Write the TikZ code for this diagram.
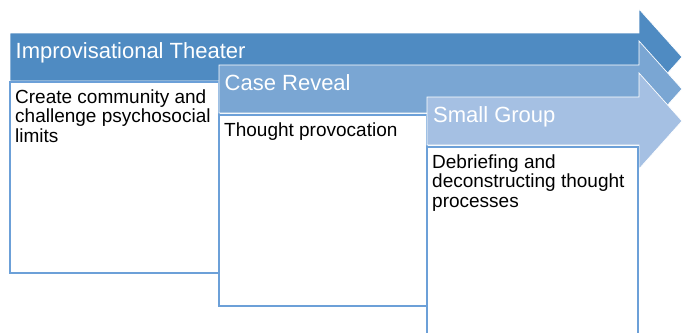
\documentclass[tikz,border=0pt]{standalone}
\usepackage{fontspec}
\setmainfont{Liberation Sans}
\usepackage{xcolor}
\usepackage{tikz}
\usetikzlibrary{positioning}

\definecolor{stageA}{RGB}{79,139,194}
\definecolor{stageB}{RGB}{122,166,211}
\definecolor{stageC}{RGB}{165,192,227}
\definecolor{boxline}{RGB}{108,160,216}

\begin{document}
\begin{tikzpicture}[x=1pt, y=-1pt,
  stage/.style={draw=white, line width=0.7pt},
  stagebox/.style={draw=boxline, line width=1.2pt, fill=white},
  title/.style={anchor=base west, inner sep=0pt, text=white, font=\fontsize{22}{24}\selectfont},
  body/.style={anchor=base west, inner sep=0pt, align=left, font=\fontsize{19}{19.5}\selectfont}]
\useasboundingbox (0,0) rectangle (682,332);
% improvisational theater
\draw[stage, fill=stageA] (10,33) -- (639,33) -- (639,9) -- (682,57) -- (639,105) -- (639,81) -- (10,81) -- cycle;
\node[title] (impro) at (15.5,58) {Improvisational Theater};
\draw[stagebox] (10,82) rectangle (219,273);
% base of a multi-line node sits on its last line
\node[body] (impro text) at (15,142) {Create community and\\challenge psychosocial\\limits};
% case reveal
\draw[stage, fill=stageB] (219,65) -- (639,65) -- (639,41) -- (682,89) -- (639,137) -- (639,113) -- (219,113) -- cycle;
\node[title] (reveal) at (224.5,90.5) {Case Reveal};
\draw[stagebox] (219,115) rectangle (427,306);
\node[body] (reveal text) at (224,136) {Thought provocation};
% small group
\draw[stage, fill=stageC] (427,97) -- (639,97) -- (639,73) -- (682,121) -- (639,169) -- (639,145) -- (427,145) -- cycle;
\node[title] (group) at (433,122.7) {Small Group};
\draw[stagebox] (427,147) rectangle (638,345);
\node[body] (group text) at (432,207) {Debriefing and\\deconstructing thought\\processes};
\end{tikzpicture}
\end{document}
